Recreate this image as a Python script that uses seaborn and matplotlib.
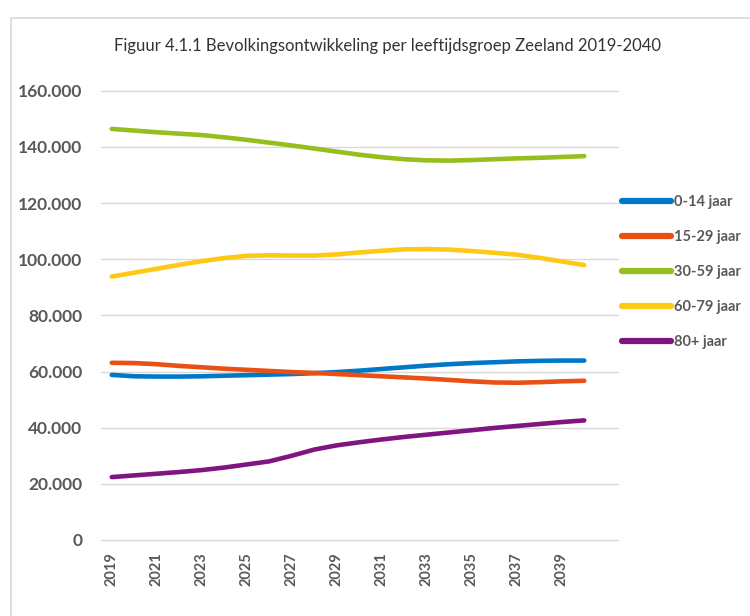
import matplotlib
matplotlib.use("Agg")
import matplotlib.pyplot as plt
from matplotlib.lines import Line2D
from matplotlib.patches import Rectangle
from matplotlib.ticker import FuncFormatter
import seaborn as sns
import pandas as pd

# Bevolking per leeftijdsgroep, Zeeland
jaren = list(range(2019, 2041))
groepen = ['0-14 jaar', '15-29 jaar', '30-59 jaar', '60-79 jaar', '80+ jaar']
jaar_0_14 = [58800, 58300, 58200, 58200, 58300, 58500, 58700, 58900, 59100, 59400, 59800,
             60300, 60900, 61500, 62100, 62600, 63000, 63300, 63600, 63800, 63900, 63900]
jaar_15_29 = [63100, 63000, 62600, 62000, 61500, 61000, 60600, 60200, 59800, 59500, 59100,
              58700, 58300, 57900, 57500, 57000, 56500, 56100, 56000, 56200, 56500, 56700]
jaar_30_59 = [146400, 145800, 145200, 144700, 144200, 143400, 142500, 141500, 140500, 139400, 138300,
              137200, 136300, 135600, 135200, 135100, 135300, 135600, 135900, 136100, 136400, 136700]
jaar_60_79 = [93800, 95200, 96600, 98000, 99300, 100400, 101200, 101400, 101300, 101300, 101700,
              102400, 103000, 103500, 103600, 103400, 102900, 102300, 101600, 100500, 99200, 97900]
jaar_80plus = [22400, 23000, 23600, 24200, 24900, 25800, 26900, 28000, 30000, 32200, 33700,
               34800, 35800, 36700, 37500, 38300, 39100, 39900, 40600, 41300, 42000, 42600]
kleuren = ['#0078C8', '#E85014', '#96BE1E', '#FFC814', '#801480']

reeksen = [jaar_0_14, jaar_15_29, jaar_30_59, jaar_60_79, jaar_80plus]
df = pd.concat(
    [pd.DataFrame({'jaar': jaren, 'aantal': r, 'groep': g}) for g, r in zip(groepen, reeksen)],
    ignore_index=True)

sns.set_theme(style="white")
plt.rcParams['font.family'] = ['Lato', 'DejaVu Sans']

fig = plt.figure(figsize=(7.5, 6.16), dpi=100)
ax = fig.add_axes([100.5 / 750, 1 - 540 / 616, (618 - 100.5) / 750, (540 - 90.7) / 616])

sns.lineplot(data=df, x='jaar', y='aantal', hue='groep', palette=kleuren,
             linewidth=3.3, ax=ax, legend=False, solid_capstyle='round')

ax.set_xlim(2018.5, 2041.5)
ax.set_ylim(0, 160000)
ax.set_yticks(range(0, 160001, 20000))
ax.yaxis.set_major_formatter(FuncFormatter(lambda v, p: f"{v:,.0f}".replace(",", ".")))
ax.set_xticks(jaren[::2])
ax.set_xticklabels([str(j) for j in jaren[::2]], rotation=90)
ax.tick_params(axis='y', length=0, pad=13, labelsize=12.5, labelcolor='#595959')
ax.tick_params(axis='x', length=0, pad=9, labelsize=10.5, labelcolor='#595959')
for lbl in ax.get_xticklabels() + ax.get_yticklabels():
    lbl.set_fontweight('bold')
ax.set_xlabel('')
ax.set_ylabel('')
for s in ax.spines.values():
    s.set_visible(False)
ax.yaxis.grid(True, color='#D9D9D9', linewidth=1)
for gl in ax.get_ygridlines():
    gl.set_clip_on(False)
ax.set_axisbelow(True)

# rand van het grafiekobject
fig.patches.append(Rectangle((11 / 750, -0.1), 1.2, 1 - 18 / 616 + 0.1, transform=fig.transFigure,
                             fill=False, edgecolor='#D9D9D9', linewidth=1.2))

fig.text(388 / 750, 1 - 46.5 / 616, 'Figuur 4.1.1 Bevolkingsontwikkeling per leeftijdsgroep Zeeland 2019-2040',
         ha='center', va='center', fontsize=12, color='#333333')

handles = [Line2D([], [], color=c, linewidth=4.5, solid_capstyle='round') for c in kleuren]
leg = fig.legend(handles, groepen, loc='upper left', bbox_to_anchor=(616 / 750, 1 - 189 / 616),
                 frameon=False, fontsize=10.5, handlelength=3.4, handletextpad=0.15,
                 labelspacing=1.45, borderaxespad=0)
for t in leg.get_texts():
    t.set_color('#595959')
    t.set_fontweight('bold')

fig.savefig('out.png', dpi=100, facecolor='white')
